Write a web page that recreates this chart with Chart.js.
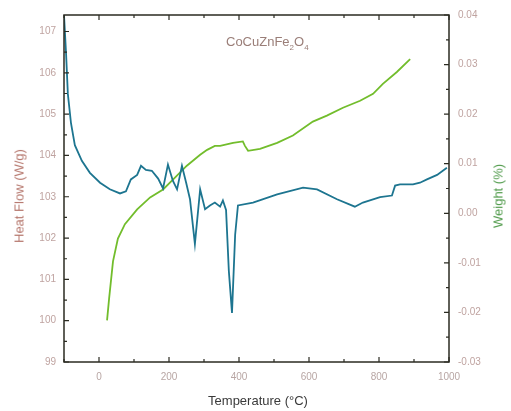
<!DOCTYPE html>
<html lang="en">
<head>
    <meta charset="UTF-8">
    <title>CoCuZnFe2O4 TGA / DSC</title>
    <script src="https://cdn.jsdelivr.net/npm/chart.js"></script>
    <style>
        body { margin: 0; background: #fff; font-family: "Liberation Sans", Arial, sans-serif; }
        #wrap { position: relative; width: 511px; height: 411px; }
        .lbl { position: absolute; white-space: nowrap; }
        .rot { transform: translate(-50%, -50%) rotate(-90deg); }
    </style>
</head>
<body>
<div id="wrap">
    <canvas id="tgaChart" width="511" height="411"></canvas>
    <div class="lbl" style="left:226px;top:34px;font-size:13px;color:#9a7e78;">CoCuZnFe<sub style="font-size:8px">2</sub>O<sub style="font-size:8px">4</sub></div>
    <div class="lbl rot" style="left:19px;top:196px;font-size:13px;color:#b5766c;">Heat Flow (W/g)</div>
    <div class="lbl rot" style="left:498px;top:196px;font-size:13px;color:#4f9a4a;">Weight (%)</div>
    <div class="lbl" style="left:258px;top:400px;transform:translate(-50%,-50%);font-size:13px;color:#3a3a3a;">Temperature (°C)</div>
</div>

<script>
    // heat flow curve (left axis)
    const heatTemp = [-100, -94, -89, -80, -69, -49, -26, 3, 31, 60, 77, 91, 109, 120, 134, 151, 169, 183, 197, 211,
        223, 237, 249, 260, 274, 289, 303, 317, 331, 346, 354, 363, 371, 380, 389, 397, 440, 509, 583, 623,
        680, 731, 754, 803, 837, 846, 860, 897, 917, 937, 966, 994];
    const heatFlow = [107.4, 106.45, 105.49, 104.78, 104.25, 103.87, 103.58, 103.34, 103.18, 103.08, 103.13, 103.42, 103.53, 103.75, 103.65, 103.63, 103.44, 103.20, 103.78, 103.39,
        103.18, 103.75, 103.34, 102.94, 101.86, 103.18, 102.70, 102.79, 102.86, 102.76, 102.91, 102.68, 101.20, 100.19, 102.08, 102.79, 102.86, 103.06, 103.22, 103.18,
        102.94, 102.76, 102.86, 102.99, 103.03, 103.27, 103.30, 103.30, 103.34, 103.42, 103.53, 103.70];

    // weight curve (right axis)
    const weightTemp = [23, 29, 40, 54, 74, 109, 146, 183, 217, 251, 289, 309, 331, 346, 383, 411, 417, 426, 460, 509,
        554, 611, 651, 697, 746, 783, 811, 851, 889];
    const weightPct = [-0.0216, -0.0171, -0.0097, -0.0051, -0.0022, 0.0008, 0.0032, 0.0048, 0.0072, 0.0096, 0.0118, 0.0128, 0.0136, 0.0136, 0.0142, 0.0145, 0.0136, 0.0126, 0.0130, 0.0142,
        0.0157, 0.0185, 0.0197, 0.0213, 0.0227, 0.0241, 0.0261, 0.0285, 0.0311];

    const xTickValues = [0, 200, 400, 600, 800, 1000];

    const tickFont = { family: "Liberation Sans, Arial, sans-serif", size: 10 };

    // inward ticks + frame, like the original plot
    const frameTicks = {
        id: 'frameTicks',
        afterDraw(chart) {
            const ctx = chart.ctx, a = chart.chartArea;
            const x = chart.scales.x, y = chart.scales.y, y2 = chart.scales.y2;
            ctx.save();
            ctx.strokeStyle = '#2b2b22';
            ctx.lineWidth = 1.5;
            ctx.strokeRect(a.left, a.top, a.right - a.left, a.bottom - a.top);
            ctx.lineWidth = 1.2;
            ctx.beginPath();
            x.ticks.forEach(t => {
                if (t.value % 100 !== 0) return;
                const px = x.getPixelForValue(t.value);
                const len = t.value % 200 === 0 ? 5 : 3;
                ctx.moveTo(px, a.bottom); ctx.lineTo(px, a.bottom - len);
                ctx.moveTo(px, a.top); ctx.lineTo(px, a.top + len);
            });
            y.ticks.forEach(t => {
                if (Math.round(t.value * 10) % 5 !== 0) return;
                const py = y.getPixelForValue(t.value);
                const len = Number.isInteger(t.value) ? 5 : 3;
                ctx.moveTo(a.left, py); ctx.lineTo(a.left + len, py);
            });
            y2.ticks.forEach(t => {
                const k = Math.round(t.value * 1000);
                if (k % 5 !== 0) return;
                const py = y2.getPixelForValue(t.value);
                const len = k % 10 === 0 ? 5 : 3;
                ctx.moveTo(a.right, py); ctx.lineTo(a.right - len, py);
            });
            ctx.stroke();
            ctx.restore();
        }
    };

    const ctx = document.getElementById('tgaChart').getContext('2d');
    new Chart(ctx, {
        type: 'line',
        data: {
            datasets: [{
                label: 'Heat Flow',
                data: heatTemp.map((t, i) => ({ x: t, y: heatFlow[i] })),
                borderColor: '#1d7590',
                borderWidth: 1.8,
                pointRadius: 0,
                yAxisID: 'y'
            }, {
                label: 'Weight',
                data: weightTemp.map((t, i) => ({ x: t, y: weightPct[i] })),
                borderColor: '#72bd2c',
                borderWidth: 1.8,
                pointRadius: 0,
                yAxisID: 'y2'
            }]
        },
        options: {
            responsive: false,
            animation: false,
            layout: { padding: { top: 10, left: 0, right: 0, bottom: 0 } },
            plugins: { legend: { display: false }, tooltip: { enabled: false } },
            scales: {
                x: {
                    type: 'linear',
                    min: -100, max: 1000,
                    border: { display: false },
                    grid: { display: false, drawTicks: false },
                    ticks: {
                        stepSize: 100, autoSkip: false, maxRotation: 0, padding: 9,
                        color: '#b8a6a4', font: tickFont,
                        callback: v => xTickValues.includes(v) ? String(v) : ''
                    },
                    afterFit: s => { s.height = 49; }
                },
                y: {
                    position: 'left',
                    min: 99, max: 107.4,
                    border: { display: false },
                    grid: { display: false, drawTicks: false },
                    ticks: {
                        stepSize: 0.5, autoSkip: false, padding: 8,
                        color: '#bfa3a0', font: tickFont,
                        callback: v => Number.isInteger(v) ? String(v) : ''
                    },
                    afterFit: s => { s.width = 64; }
                },
                y2: {
                    position: 'right',
                    min: -0.03, max: 0.04,
                    border: { display: false },
                    grid: { display: false, drawTicks: false },
                    ticks: {
                        stepSize: 0.005, autoSkip: false, padding: 9,
                        color: '#bfa3a0', font: tickFont,
                        callback: v => Math.round(v * 1000) % 10 === 0 ? v.toFixed(2) : ''
                    },
                    afterFit: s => { s.width = 62; }
                }
            }
        },
        plugins: [frameTicks]
    });
</script>
</body>
</html>
